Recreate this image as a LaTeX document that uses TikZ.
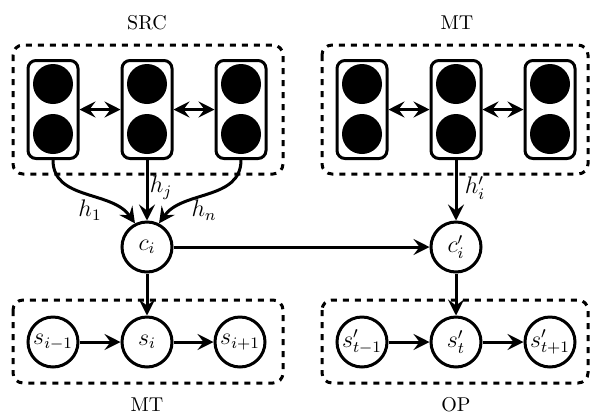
\documentclass[tikz,border=0pt]{standalone}
\usetikzlibrary{arrows.meta,positioning}
\begin{document}
\begin{tikzpicture}[x=0.5pt,y=-0.5pt,
  line width=1.5pt,
  >={Stealth[length=8pt,width=8pt,inset=3pt]},
  cellbox/.style={draw,rounded corners=4pt,minimum width=25pt,minimum height=49pt,inner sep=0pt},
  dot/.style={fill=black,circle,minimum size=20pt,inner sep=0pt},
  state/.style={draw,circle,minimum size=25pt,inner sep=0pt,font=\large},
  groupbox/.style={draw,dashed,rounded corners=5pt},
  lab/.style={inner sep=0pt},
  mlab/.style={inner sep=0pt,font=\large}]
\useasboundingbox (0,0) rectangle (590,414);
% dashed group boxes
\draw[groupbox] (13,45) rectangle (283,174);
\draw[groupbox] (322,45) rectangle (588,174);
\draw[groupbox] (13,300) rectangle (283,383);
\draw[groupbox] (322,300) rectangle (588,383);
% group labels
\node[lab] (lsrc) at (147,23) {SRC};
\node[lab] (lmt) at (457,23) {MT};
\node[lab] (lmtb) at (147,405) {MT};
\node[lab] (lop) at (456,405) {OP};
% cells
\foreach \n/\x in {a1/53,a2/147,a3/241,b1/362,b2/456,b3/550}{
  \node[cellbox] (\n) at (\x,109.5) {};
  \node[dot] (\n t) at (\x,84) {};
  \node[dot] (\n b) at (\x,134) {};
}
\draw[<->] (a1) -- (a2);
\draw[<->] (a2) -- (a3);
\draw[<->] (b1) -- (b2);
\draw[<->] (b2) -- (b3);
% context nodes
\node[state] (ci) at (147,247) {$c_i$};
\node[state] (cpi) at (456,247) {$c'_i$};
% decoder states
\node[state] (s1) at (53,342) {$s_{i-1}$};
\node[state] (s2) at (147,342) {$s_i$};
\node[state] (s3) at (240,342) {$s_{i+1}$};
\node[state] (t1) at (362,342) {$s'_{t-1}$};
\node[state] (t2) at (456,342) {$s'_t$};
\node[state] (t3) at (550,342) {$s'_{t+1}$};
% connectors
\draw[->] (a1.south) to[out=-90,in=125] (ci.117);
\draw[->] (a2.south) -- (ci.north);
\draw[->] (a3.south) to[out=-90,in=55] (ci.63);
\draw[->] (b2.south) -- (cpi.north);
\draw[->] (ci) -- (cpi);
\draw[->] (ci) -- (s2);
\draw[->] (cpi) -- (t2);
\draw[->] (s1) -- (s2);
\draw[->] (s2) -- (s3);
\draw[->] (t1) -- (t2);
\draw[->] (t2) -- (t3);
% edge labels
\node[mlab] (h1) at (90,210) {$h_1$};
\node[mlab] (hj) at (161,188) {$h_j$};
\node[mlab] (hn) at (204,210) {$h_n$};
\node[mlab] (hpi) at (475,188) {$h'_i$};
\end{tikzpicture}
\end{document}
